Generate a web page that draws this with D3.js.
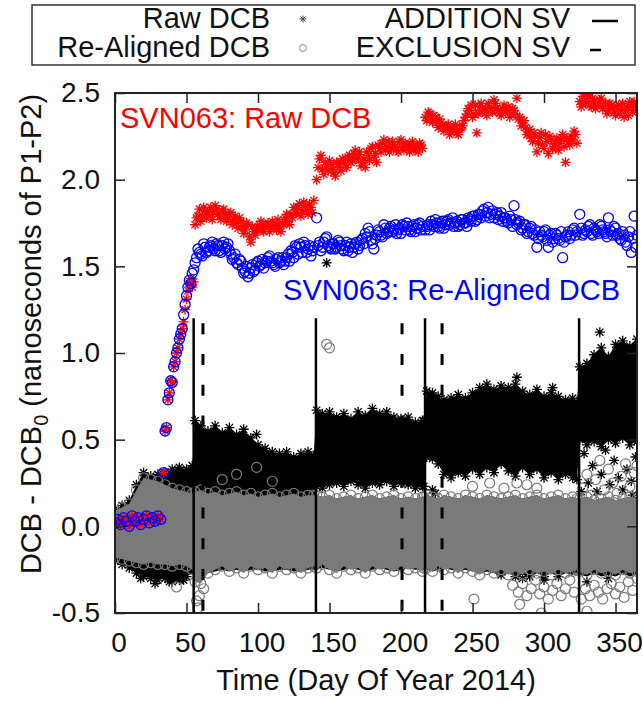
<!DOCTYPE html>
<html><head><meta charset="utf-8">
<script src="https://cdn.jsdelivr.net/npm/d3@7"></script>
<style>
html,body{margin:0;padding:0;background:#fff;}
svg text{font-family:"Liberation Sans",Arial,Helvetica,sans-serif;}
</style></head>
<body><svg id="chart" width="643" height="705"></svg>
<script>
// ---------- DATA ----------
const xTicks = [0, 50, 100, 150, 200, 250, 300, 350];
const yTicks = [-0.5, 0.0, 0.5, 1.0, 1.5, 2.0, 2.5];
const additionSV = [55, 140.5, 216.8, 324.5];
const exclusionSV = [61.5, 200.7, 228.7];
const svLineTop = 1.2;

// envelope of the dense clouds (all other satellites)
const envDays = [0,5,10,15,20,25,30,35,40,45,50,54,
  56,60,65,70,75,80,85,90,95,100,105,110,115,120,125,130,135,139,
  141,145,150,155,160,165,170,175,180,185,190,195,200,205,210,215,216,
  218,222,226,230,235,240,245,250,255,260,265,270,275,280,285,290,295,300,305,310,315,320,323,
  325,330,335,340,345,350,355,360,365];
const rawTop = [0.10,0.12,0.15,0.24,0.31,0.29,0.30,0.31,0.33,0.34,0.33,0.35,
  0.61,0.58,0.55,0.58,0.54,0.57,0.53,0.56,0.51,0.47,0.45,0.43,0.42,0.43,0.40,0.42,0.43,0.41,
  0.67,0.65,0.66,0.63,0.65,0.62,0.66,0.64,0.68,0.65,0.66,0.63,0.62,0.63,0.60,0.61,0.61,
  0.78,0.77,0.75,0.73,0.74,0.76,0.74,0.77,0.80,0.82,0.79,0.81,0.80,0.82,0.78,0.76,0.79,0.75,0.77,0.75,0.73,0.74,0.72,
  0.92,0.94,0.99,1.03,0.98,1.05,1.07,1.04,1.08];
const rawMid = [0.05,0.05,0.05,0.05,0.05,0.05,0.05,0.05,0.05,0.05,0.05,0.05,
  0.10,0.10,0.10,0.10,0.10,0.10,0.10,0.10,0.10,0.10,0.10,0.10,0.10,0.10,0.10,0.10,0.10,0.10,
  0.23,0.22,0.24,0.25,0.23,0.26,0.24,0.22,0.25,0.24,0.26,0.23,0.25,0.24,0.22,0.23,0.23,
  0.40,0.39,0.36,0.30,0.28,0.31,0.29,0.33,0.30,0.34,0.31,0.36,0.32,0.29,0.34,0.30,0.33,0.28,0.31,0.27,0.30,0.28,0.27,
  0.50,0.47,0.49,0.46,0.50,0.48,0.51,0.47,0.49];
const rawBot = [-0.20,-0.22,-0.24,-0.27,-0.29,-0.30,-0.31,-0.30,-0.32,-0.31,-0.29,-0.27,
  -0.30,-0.31,-0.27,-0.26,-0.25,-0.26,-0.25,-0.26,-0.25,-0.25,-0.26,-0.26,-0.25,-0.25,-0.26,-0.26,-0.25,-0.25,
  -0.25,-0.24,-0.25,-0.26,-0.25,-0.24,-0.25,-0.26,-0.25,-0.24,-0.25,-0.26,-0.25,-0.24,-0.25,-0.25,-0.25,
  -0.25,-0.26,-0.25,-0.24,-0.25,-0.26,-0.25,-0.26,-0.27,-0.26,-0.27,-0.28,-0.27,-0.29,-0.28,-0.29,-0.27,-0.29,-0.27,-0.29,-0.27,-0.28,-0.27,
  -0.28,-0.29,-0.27,-0.29,-0.28,-0.29,-0.27,-0.29,-0.28];
const alignedTop = [0.09,0.11,0.13,0.21,0.28,0.27,0.26,0.24,0.22,0.21,0.20,0.19,
  0.20,0.21,0.19,0.20,0.18,0.19,0.20,0.18,0.19,0.17,0.18,0.19,0.17,0.18,0.19,0.17,0.18,0.18,
  0.18,0.17,0.18,0.16,0.17,0.18,0.16,0.17,0.18,0.16,0.17,0.18,0.16,0.17,0.16,0.17,0.17,
  0.18,0.17,0.16,0.18,0.17,0.16,0.18,0.17,0.16,0.18,0.17,0.16,0.17,0.18,0.16,0.17,0.18,0.16,0.17,0.18,0.16,0.17,0.16,
  0.16,0.17,0.15,0.16,0.17,0.15,0.16,0.17,0.16];
const alignedBot = [-0.18,-0.19,-0.20,-0.21,-0.22,-0.21,-0.22,-0.22,-0.23,-0.22,-0.23,-0.25,
  -0.32,-0.33,-0.27,-0.25,-0.23,-0.26,-0.24,-0.27,-0.23,-0.25,-0.24,-0.27,-0.23,-0.25,-0.24,-0.27,-0.24,-0.23,
  -0.24,-0.22,-0.25,-0.27,-0.23,-0.25,-0.24,-0.27,-0.23,-0.25,-0.24,-0.26,-0.23,-0.25,-0.24,-0.26,-0.24,
  -0.24,-0.26,-0.23,-0.25,-0.24,-0.27,-0.24,-0.26,-0.28,-0.25,-0.27,-0.25,-0.28,-0.26,-0.28,-0.25,-0.27,-0.26,-0.28,-0.25,-0.27,-0.26,-0.25,
  -0.26,-0.28,-0.25,-0.27,-0.26,-0.28,-0.25,-0.27,-0.26];

// isolated points of the other satellites
const rawOutDays = [99,148,281,306,339,222,224,326,328,331,334,337,340,343,346,349,352,355,358,361,364,362,285,300,330,345,18,28,38,48];
const rawOutVals = [0.53,1.52,0.86,0.80,1.12,0.21,0.19,0.20,0.42,0.25,0.35,0.20,0.30,0.44,0.24,0.38,0.28,0.21,0.33,0.26,0.40,0.18,-0.30,-0.31,-0.32,-0.30,-0.30,-0.33,-0.32,-0.31];
const alignedOutDays = [43,57,58,59,62,75,85,99,110,148,150,251,283,298,330,
  250,262,272,281,288,295,
  278,282,285,288,291,294,297,300,303,306,309,312,315,318,321,326,329,332,335,338,341,344,347,350,353,356,359,362,365,
  327,330,333,336,339,342,345,348,351,354,357,360,363,365];
const alignedOutVals = [-0.35,-0.43,-0.47,-0.40,-0.36,0.27,0.30,0.34,0.26,1.05,1.03,-0.42,-0.45,-0.50,-0.49,
  0.23,0.25,0.22,0.25,0.24,0.22,
  -0.34,-0.38,-0.33,-0.40,-0.36,-0.31,-0.39,-0.35,-0.42,-0.37,-0.33,-0.40,-0.36,-0.31,-0.38,-0.42,-0.36,-0.40,-0.34,-0.38,-0.42,-0.36,-0.33,-0.39,-0.35,-0.41,-0.32,-0.37,-0.30,
  0.22,0.30,0.18,0.27,0.38,0.21,0.33,0.25,0.19,0.29,0.36,0.23,0.31,0.35];

// SVN063 (first sample of each day pair)
const svnDays = [].concat(d3.range(0,33,2), d3.range(34,55,1), d3.range(55,140,2),
  d3.range(141,216,2), d3.range(217,324,2), d3.range(325,366,2));
const svnRaw = [0.02,0.04,0.01,0.05,0.03,0.00,0.06,0.03,0.05,0.01,0.04,0.06,0.02,0.05,0.03,0.06,0.04,
  0.31,0.55,0.57,0.73,0.77,0.84,0.83,0.92,0.95,1.00,1.03,1.08,1.11,1.14,1.18,1.25,1.31,1.36,1.40,1.43,1.38,
  1.41,1.78,1.83,1.79,1.82,1.80,1.84,1.81,1.83,1.79,1.82,1.80,1.78,1.81,1.77,1.75,1.78,1.73,1.71,1.74,
  1.64,1.70,1.72,1.74,1.71,1.73,1.75,1.72,1.74,1.71,1.73,1.75,1.78,1.76,1.80,1.84,1.81,1.86,1.82,1.85,1.80,1.84,1.88,
  2.00,2.12,2.06,2.10,2.05,2.09,2.04,2.10,2.07,2.12,2.09,2.13,2.10,2.15,2.12,2.16,2.10,2.07,2.14,2.18,
  2.13,2.10,2.18,2.21,2.17,2.22,2.18,2.20,2.17,2.22,2.19,2.21,2.18,2.20,2.17,2.19,2.21,2.18,
  2.36,2.39,2.35,2.37,2.33,2.35,2.31,2.30,2.32,2.28,2.30,2.27,2.29,2.31,2.36,2.41,2.43,2.38,2.27,2.42,
  2.39,2.41,2.44,2.40,2.46,2.41,2.38,2.41,2.39,2.42,2.38,2.40,2.47,2.36,2.33,2.30,2.27,2.24,2.27,2.16,
  2.24,2.20,2.26,2.15,2.23,2.19,2.24,2.21,2.26,2.10,2.22,2.25,2.28,2.21,
  2.45,2.48,2.44,2.47,2.42,2.45,2.43,2.46,2.41,2.44,2.40,2.43,2.39,2.42,2.38,2.44,2.40,2.37,2.42,2.45,2.40];
const svnAligned = [0.02,0.04,0.01,0.05,0.03,0.00,0.06,0.03,0.05,0.01,0.04,0.06,0.02,0.05,0.03,0.06,0.04,
  0.31,0.55,0.57,0.73,0.77,0.84,0.83,0.92,0.95,1.00,1.03,1.08,1.11,1.14,1.22,1.28,1.33,1.38,1.42,1.40,1.46,
  1.48,1.55,1.58,1.56,1.61,1.59,1.62,1.60,1.63,1.59,1.62,1.60,1.63,1.57,1.55,1.52,1.54,1.49,1.47,1.44,
  1.49,1.47,1.52,1.50,1.54,1.52,1.55,1.53,1.51,1.54,1.52,1.55,1.53,1.57,1.59,1.55,1.61,1.63,1.58,1.62,1.60,1.56,1.61,
  1.78,1.64,1.61,1.66,1.62,1.60,1.63,1.61,1.64,1.60,1.62,1.59,1.63,1.61,1.64,1.62,1.66,1.69,1.72,1.65,
  1.60,1.68,1.70,1.67,1.72,1.70,1.73,1.71,1.69,1.72,1.74,1.71,1.73,1.70,1.74,1.72,1.75,1.73,
  1.71,1.74,1.76,1.73,1.75,1.72,1.76,1.74,1.77,1.75,1.73,1.76,1.74,1.77,1.75,1.78,1.76,1.79,1.77,1.80,
  1.82,1.79,1.84,1.80,1.78,1.81,1.79,1.76,1.78,1.75,1.77,1.85,1.74,1.76,1.72,1.74,1.70,1.73,1.68,1.61,
  1.70,1.67,1.71,1.61,1.69,1.66,1.68,1.65,1.55,1.67,1.70,1.68,1.72,1.70,
  1.80,1.68,1.71,1.73,1.69,1.72,1.70,1.74,1.71,1.69,1.78,1.70,1.73,1.68,1.66,1.70,1.64,1.67,1.58,1.79,1.68];
// SVN063 (second sample of each day pair)
const svnDays2 = [].concat(d3.range(56,139,2), d3.range(142,215,2), d3.range(218,323,2), d3.range(326,365,2));
const svnRaw2 = [1.74,1.79,1.76,1.84,1.78,1.82,1.77,1.85,1.80,1.77,1.83,1.76,1.80,1.74,1.79,1.72,1.76,1.69,1.75,1.67,
  1.73,1.68,1.71,1.76,1.70,1.74,1.70,1.76,1.73,1.77,1.70,1.74,1.80,1.74,1.78,1.81,1.84,1.79,1.87,1.83,1.86,1.81,
  2.07,2.14,2.03,2.08,2.11,2.06,2.02,2.09,2.05,2.11,2.07,2.14,2.11,2.17,2.13,2.08,2.12,2.16,2.11,2.19,
  2.15,2.20,2.16,2.23,2.19,2.16,2.22,2.19,2.16,2.23,2.17,2.20,2.16,2.22,2.18,2.16,2.20,
  2.34,2.38,2.33,2.36,2.30,2.33,2.28,2.31,2.26,2.29,2.32,2.26,2.30,2.34,2.38,2.40,2.36,2.43,2.38,2.44,
  2.40,2.37,2.42,2.39,2.44,2.40,2.37,2.43,2.40,2.36,2.41,2.38,2.35,2.31,2.34,2.26,2.29,2.22,2.25,2.21,
  2.27,2.18,2.22,2.25,2.18,2.21,2.17,2.23,2.19,2.24,2.20,2.23,2.26,
  2.42,2.45,2.49,2.43,2.47,2.41,2.44,2.47,2.42,2.38,2.44,2.41,2.37,2.43,2.40,2.36,2.42,2.45,2.39,2.43];
const svnAligned2 = [1.52,1.60,1.57,1.63,1.58,1.61,1.64,1.59,1.62,1.58,1.64,1.61,1.59,1.54,1.57,1.51,1.53,1.46,1.50,1.46,
  1.51,1.48,1.53,1.51,1.49,1.53,1.56,1.52,1.50,1.55,1.53,1.51,1.55,1.53,1.58,1.62,1.57,1.61,1.64,1.58,1.62,1.59,
  1.62,1.59,1.64,1.67,1.61,1.63,1.60,1.65,1.62,1.59,1.64,1.61,1.58,1.63,1.60,1.65,1.63,1.67,1.70,1.63,
  1.66,1.71,1.68,1.74,1.69,1.72,1.70,1.74,1.71,1.69,1.73,1.75,1.71,1.73,1.70,1.74,1.71,
  1.73,1.71,1.74,1.77,1.73,1.75,1.72,1.76,1.74,1.78,1.75,1.73,1.77,1.75,1.73,1.77,1.79,1.76,1.80,1.78,
  1.83,1.81,1.78,1.82,1.80,1.77,1.81,1.78,1.76,1.79,1.73,1.77,1.75,1.71,1.74,1.69,1.72,1.69,1.71,1.66,
  1.68,1.70,1.65,1.68,1.64,1.69,1.66,1.70,1.64,1.68,1.66,1.71,1.68,
  1.72,1.69,1.70,1.74,1.68,1.71,1.69,1.73,1.70,1.67,1.71,1.68,1.72,1.69,1.65,1.68,1.62,1.70,1.66,1.61];

// ---------- CHART ----------
const M = {left: 115, right: 637, top: 93, bottom: 613};
const svg = d3.select("#chart");
const x = d3.scaleLinear().domain([0, 365]).range([M.left, M.right]);
const y = d3.scaleLinear().domain([-0.5, 2.5]).range([M.bottom, M.top]);

const BLACK = "#000", GREY = "#7a7a7a", RED = "#ff0000", BLUE = "#0000ff";
function starPath(s){ const d = s*0.72; return `M${-s},0L${s},0M0,${-s}L0,${s}M${-d},${-d}L${d},${d}M${-d},${d}L${d},${-d}`; }

svg.append("defs").append("clipPath").attr("id","clip")
  .append("rect").attr("x",M.left).attr("y",M.top).attr("width",M.right-M.left).attr("height",M.bottom-M.top);
const plot = svg.append("g").attr("clip-path","url(#clip)");

const idx = d3.range(envDays.length);
const band = (lo, hi) => d3.area().x(i => x(envDays[i])).y0(i => y(lo[i])).y1(i => y(hi[i]));
const stars = (days, vals, color, s, sw, keep) => plot.append("g").selectAll("path")
  .data(d3.range(days.length).filter(keep || (() => true))).join("path")
  .attr("d", starPath(s)).attr("transform", i => `translate(${x(days[i])},${y(vals[i])})`)
  .attr("stroke", color).attr("stroke-width", sw).attr("fill", "none");
const circles = (days, vals, color, r, sw) => plot.append("g").selectAll("circle").data(d3.range(days.length)).join("circle")
  .attr("cx", i => x(days[i])).attr("cy", i => y(vals[i])).attr("r", r)
  .attr("stroke", color).attr("stroke-width", sw).attr("fill", "none");

// raw DCB of other satellites (black)
plot.append("path").datum(idx).attr("d", band(rawMid, rawTop)).attr("fill", BLACK);
plot.append("path").datum(idx).attr("d", band(rawBot, alignedTop)).attr("fill", BLACK);
stars(envDays, rawTop, BLACK, 5, 1.3);
stars(envDays, rawBot, BLACK, 5, 1.3, i => rawBot[i] < alignedBot[i] - 0.02);
stars(envDays, rawMid, BLACK, 5, 1.3, i => rawMid[i] > alignedTop[i] + 0.03);
stars(rawOutDays, rawOutVals, BLACK, 5, 1.3);

// re-aligned DCB of other satellites (grey)
plot.append("path").datum(idx).attr("d", band(alignedBot, alignedTop)).attr("fill", GREY);
circles(envDays, alignedTop, GREY, 5, 1.2);
circles(envDays, alignedBot, GREY, 5, 1.2);
circles(alignedOutDays, alignedOutVals, GREY, 5, 1.2);

// SV event lines
plot.append("g").selectAll("line").data(additionSV).join("line")
  .attr("x1", d => x(d)).attr("x2", d => x(d)).attr("y1", y(svLineTop)).attr("y2", y(-0.5))
  .attr("stroke", BLACK).attr("stroke-width", 2.5);
plot.append("g").selectAll("line").data(exclusionSV).join("line")
  .attr("x1", d => x(d)).attr("x2", d => x(d)).attr("y1", y(svLineTop)).attr("y2", y(-0.5))
  .attr("stroke", BLACK).attr("stroke-width", 3).attr("stroke-dasharray", "11,19.7").attr("stroke-dashoffset", 25.7);

// SVN063
stars(svnDays, svnRaw, RED, 5, 1.3);
stars(svnDays2, svnRaw2, RED, 5, 1.3);
circles(svnDays, svnAligned, BLUE, 5, 1.3);
circles(svnDays2, svnAligned2, BLUE, 5, 1.3);

// annotations
svg.append("text").attr("x", 120).attr("y", 128).attr("font-size", 29).attr("fill", RED).text("SVN063: Raw DCB");
svg.append("text").attr("x", 620).attr("y", 300).attr("font-size", 29).attr("fill", BLUE).attr("text-anchor","end").text("SVN063: Re-Aligned DCB");

// axes
const axG = svg.append("g");
const gB = axG.append("g").attr("transform", `translate(0,${M.bottom})`)
  .call(d3.axisBottom(x).tickValues(xTicks).tickSize(-10).tickSizeOuter(0).tickPadding(19).tickFormat(d => d));
const gT = axG.append("g").attr("transform", `translate(0,${M.top})`)
  .call(d3.axisTop(x).tickValues(xTicks).tickSize(-10).tickSizeOuter(0).tickFormat(""));
const gL = axG.append("g").attr("transform", `translate(${M.left},0)`)
  .call(d3.axisLeft(y).tickValues(yTicks).tickSize(-10).tickSizeOuter(0).tickPadding(15).tickFormat(d => d.toFixed(1)));
const gR = axG.append("g").attr("transform", `translate(${M.right},0)`)
  .call(d3.axisRight(y).tickValues(yTicks).tickSize(-10).tickSizeOuter(0).tickFormat(""));
[gB, gT, gL, gR].forEach(g => {
  g.select(".domain").remove();
  g.selectAll(".tick line").attr("stroke", "#222").attr("stroke-width", 1.5);
  g.selectAll("text").attr("font-size", 28).attr("fill", "#111").attr("font-family", "Liberation Sans, Arial, sans-serif");
});
gB.selectAll("text").attr("dx", 3.5);
axG.append("rect").attr("x", M.left).attr("y", M.top).attr("width", M.right-M.left).attr("height", M.bottom-M.top)
  .attr("fill", "none").attr("stroke", "#222").attr("stroke-width", 2);

// axis titles
svg.append("text").attr("x", 376).attr("y", 690).attr("text-anchor","middle").attr("font-size", 29).attr("fill","#111")
  .text("Time (Day Of Year 2014)");
const yl = svg.append("text").attr("transform", "translate(41,334) rotate(-90)").attr("text-anchor","middle")
  .attr("font-size", 29).attr("fill","#111");
yl.append("tspan").text("DCB - DCB");
yl.append("tspan").attr("font-size", 20).attr("dy", 7).text("0");
yl.append("tspan").attr("dy", -7).text(" (nanoseconds of P1-P2)");

// legend
const lg = svg.append("g");
lg.append("rect").attr("x", 32).attr("y", 5).attr("width", 603).attr("height", 60)
  .attr("fill", "#fff").attr("stroke", "#333").attr("stroke-width", 1.5);
const lt = (tx, ty, s) => lg.append("text").attr("x", tx).attr("y", ty).attr("text-anchor","end").attr("font-size", 29).attr("fill","#111").text(s);
lt(270, 28, "Raw DCB");
lt(270, 57, "Re-Aligned DCB");
lt(570, 28, "ADDITION SV");
lt(570, 57, "EXCLUSION SV");
lg.append("path").attr("d", starPath(3.5)).attr("transform","translate(303,19)").attr("stroke","#444").attr("stroke-width",1).attr("fill","none");
lg.append("circle").attr("cx",303).attr("cy",48).attr("r",3.5).attr("stroke","#888").attr("stroke-width",1).attr("fill","none");
lg.append("line").attr("x1",592).attr("x2",618).attr("y1",21).attr("y2",21).attr("stroke","#000").attr("stroke-width",2.5);
lg.append("line").attr("x1",590).attr("x2",601).attr("y1",50).attr("y2",50).attr("stroke","#000").attr("stroke-width",2.5);
</script></body></html>
